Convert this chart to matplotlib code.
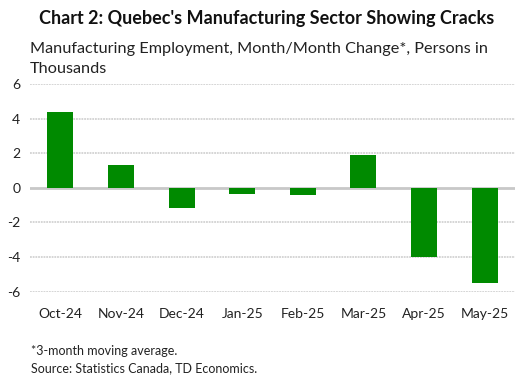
import matplotlib
matplotlib.use("Agg")
import matplotlib.pyplot as plt

# datos del grafico
meses = ["Oct-24", "Nov-24", "Dec-24", "Jan-25", "Feb-25", "Mar-25", "Apr-25", "May-25"]
cambio = [4.4, 1.3, -1.15, -0.35, -0.4, 1.9, -4.0, -5.5]
yticks = [-6, -4, -2, 0, 2, 4, 6]

titulo = "Chart 2: Quebec's Manufacturing Sector Showing Cracks"
subtitulo = "Manufacturing Employment, Month/Month Change*, Persons in\nThousands"
nota = "*3-month moving average.\nSource: Statistics Canada, TD Economics."

plt.rcParams["font.family"] = ["Lato", "DejaVu Sans"]

fig = plt.figure(figsize=(5.19, 3.85), dpi=100)
ax = fig.add_axes([0.0578, 0.2423, 0.9345, 0.5395])

x = list(range(len(meses)))
ax.bar(x, cambio, width=0.43, color="#008a00", zorder=3)

# rejilla horizontal
for v in yticks:
    if v == 0:
        ax.axhline(v, color="#c8c8c8", lw=2.0, zorder=2)
    else:
        ax.axhline(v, color="#d2d2d2", lw=1.3, ls=(0, (1, 0.5)), zorder=1)

ax.set_xlim(-0.5, 7.5)
ax.set_ylim(-6, 6)
ax.set_yticks(yticks)
ax.set_yticklabels([str(v) for v in yticks])
ax.set_xticks(x)
ax.set_xticklabels(meses)
ax.tick_params(axis="both", length=0, labelsize=10, colors="#222222")
ax.tick_params(axis="y", pad=7)
ax.tick_params(axis="x", pad=12)
for s in ax.spines.values():
    s.set_visible(False)

fig.text(0.514, 0.953, titulo, ha="center", va="center", fontsize=13,
         fontweight="bold", color="#111111")
fig.text(0.058, 0.847, subtitulo, ha="left", va="center", fontsize=11.7,
         color="#222222", linespacing=1.5)
fig.text(0.060, 0.065, nota, ha="left", va="center", fontsize=9,
         color="#222222", linespacing=1.5)

fig.savefig("out.png", dpi=100)
